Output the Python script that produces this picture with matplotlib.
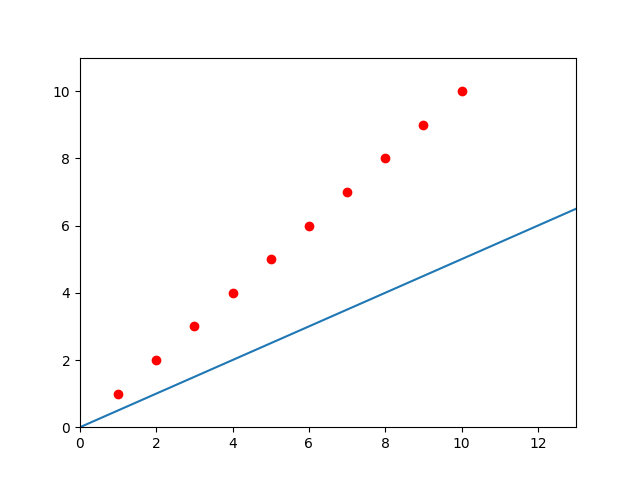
import matplotlib
matplotlib.use("Agg")
import matplotlib.pyplot as plt

points_x = [1, 2, 3, 4, 5, 6, 7, 8, 9, 10]
points_y = [1, 2, 3, 4, 5, 6, 7, 8, 9, 10]
line_x = [0, 13]
line_y = [0, 6.5]

fig, ax = plt.subplots(figsize=(6.4, 4.8), dpi=100)
ax.plot(points_x, points_y, 'ro')
ax.plot(line_x, line_y, color='#1f77b4')
ax.set_xlim(0, 13)
ax.set_ylim(0, 11)
fig.savefig("out.png")
